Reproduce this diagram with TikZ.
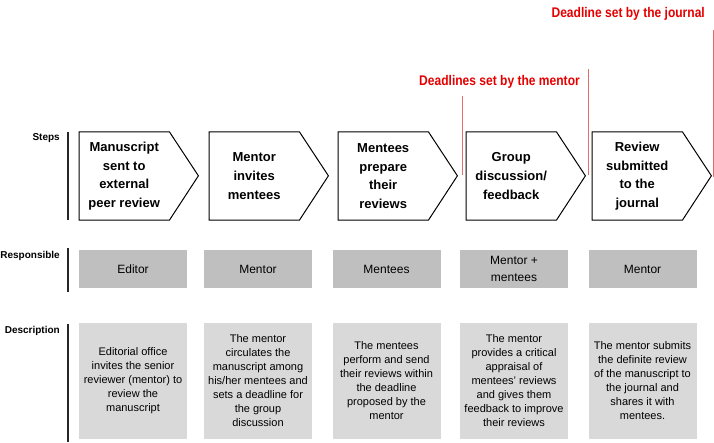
\documentclass[tikz,border=0pt]{standalone}
\usepackage{fontspec}
\setmainfont{Liberation Sans}
\newfontfamily\narrowfont{Liberation Sans}[FakeStretch=0.86]
\definecolor{respgray}{RGB}{191,191,191}
\definecolor{descgray}{RGB}{217,217,217}
\definecolor{deadred}{RGB}{230,0,0}
\definecolor{linered}{RGB}{228,110,110}
\tikzset{
  stepbox/.style={minimum width=90pt, minimum height=88pt, inner sep=0pt, align=center,
    font=\fontsize{13}{18.7}\selectfont\bfseries},
  chevron/.style={draw=black, line width=1pt, line join=miter},
  rowlabel/.style={anchor=east, inner sep=0pt, font=\fontsize{10}{12}\selectfont\bfseries},
  rowbar/.style={draw=black!85, line width=1.3pt},
  respbox/.style={fill=respgray, minimum width=108pt, minimum height=38pt, inner sep=0pt,
    align=center, font=\fontsize{12}{16.5}\selectfont},
  descbox/.style={fill=descgray, minimum width=108pt, minimum height=116pt, inner sep=0pt,
    align=center, font=\fontsize{11}{14}\selectfont},
  deadlabel/.style={anchor=east, inner sep=0pt, text=deadred,
    font=\narrowfont\fontsize{14}{16}\selectfont\bfseries},
  deadline/.style={draw=linered, line width=0.9pt}
}
\begin{document}
\begin{tikzpicture}[x=1pt, y=-1pt]
\useasboundingbox (0,0) rectangle (714,442);

% deadline markers
\node[deadlabel] (lj) at (705,14) {Deadline set by the journal};
\node[deadlabel] (lm) at (580,82) {Deadlines set by the mentor};
\coordinate (j1) at (713,30); \coordinate (j2) at (713,177);
\coordinate (m1) at (588,69); \coordinate (m2) at (588,175);
\coordinate (n1) at (462,96); \coordinate (n2) at (462,175);
\draw[deadline] (j1) -- (j2);
\draw[deadline] (m1) -- (m2);
\draw[deadline] (n1) -- (n2);

% row labels and bars
\node[rowlabel] (steps) at (60,138) {Steps};
\node[rowlabel] (resp) at (60,256) {Responsible};
\node[rowlabel] (desc) at (60,331) {Description};
\coordinate (b1a) at (68,132); \coordinate (b1b) at (68,220);
\coordinate (b2a) at (68,248); \coordinate (b2b) at (68,292);
\coordinate (b3a) at (68,324); \coordinate (b3b) at (68,442);
\draw[rowbar] (b1a) -- (b1b);
\draw[rowbar] (b2a) -- (b2b);
\draw[rowbar] (b3a) -- (b3b);

% steps
\foreach \i/\x/\t in {1/79/{Manuscript\\sent to\\external\\peer review},
                       2/209/{Mentor\\invites\\mentees},
                       3/338/{Mentees\\prepare\\their\\reviews},
                       4/466/{Group\\discussion/\\feedback},
                       5/592/{Review\\submitted\\to the\\journal}}{
  \node[stepbox, anchor=west] (s\i) at (\x,176) {\t};
  \draw[chevron] (s\i.north west) -- (s\i.north east) -- ++(29,44) -- (s\i.south east) -- (s\i.south west) -- cycle;
}

% responsible
\node[respbox] (r1) at (133,269) {Editor};
\node[respbox] (r2) at (258,269) {Mentor};
\node[respbox] (r3) at (386.5,269) {Mentees};
\node[respbox] (r4) at (514,269) {Mentor +\\mentees};
\node[respbox] (r5) at (642.5,269) {Mentor};

% descriptions
\node[descbox] (d1) at (133,381) {Editorial office\\invites the senior\\reviewer (mentor) to\\review the\\manuscript};
\node[descbox] (d2) at (258,381) {The mentor\\circulates the\\manuscript among\\his/her mentees and\\sets a deadline for\\the group\\discussion};
\node[descbox] (d3) at (386.5,381) {The mentees\\perform and send\\their reviews within\\the deadline\\proposed by the\\mentor};
\node[descbox] (d4) at (514,381) {The mentor\\provides a critical\\appraisal of\\mentees' reviews\\and gives them\\feedback to improve\\their reviews};
\node[descbox] (d5) at (642.5,381) {The mentor submits\\the definite review\\of the manuscript to\\the journal and\\shares it with\\mentees.};
\end{tikzpicture}
\end{document}
